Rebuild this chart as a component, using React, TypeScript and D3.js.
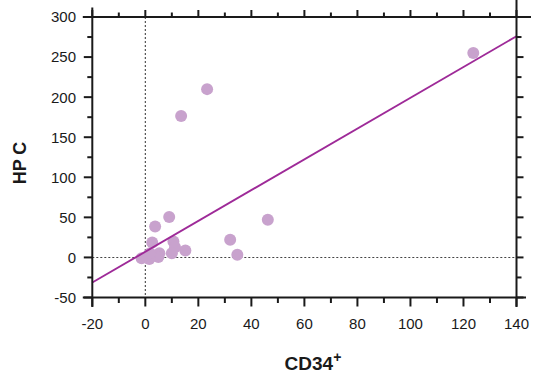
import React from "react";
import * as d3 from "d3";

const pointX = [123.7, 23.3, 13.5, 9, 3.7, 46.2, 32, 34.7, 15.1, 2.6, 10.6, 11.2, 10, 5.3, 4.9, 1.5, -1.4, 1.8];
const pointY = [255, 210, 176.5, 50.5, 38.5, 47, 22, 3.2, 8.6, 18.6, 19.8, 12.8, 5.3, 5.3, 0.4, -2, -0.9, 5.3];
const fitX = [-20, 140];
const fitY = [-31.3, 276];
const xMajor = [-20, 0, 20, 40, 60, 80, 100, 120, 140];
const xMinor = [-10, 10, 30, 50, 70, 90, 110, 130];
const yMajor = [-50, 0, 50, 100, 150, 200, 250, 300];
const yMinor = [-25, 25, 75, 125, 175, 225, 275];

const W = 537, H = 374;
const L = 92.3, R = 516.5, T = 17, B = 297.5;

export default function App() {
  const x = d3.scaleLinear().domain([-20, 140]).range([L, R]);
  const y = d3.scaleLinear().domain([-50, 300]).range([B, T]);
  const font = "Liberation Sans, Arial, sans-serif";
  const ext = 9.5;
  const line = d3.line<number>().x((d) => x(d)).y((_, i) => y(fitY[i]));
  const ax = "#1a1a1a";
  return (
    <svg width={W} height={H} style={{ position: "absolute", left: 0, top: 0 }}>
      <rect width={W} height={H} fill="#fff" />
      <line x1={x(0)} x2={x(0)} y1={T} y2={B} stroke="#444" strokeWidth={1.1} strokeDasharray="2,2" />
      <line x1={L} x2={R} y1={y(0)} y2={y(0)} stroke="#444" strokeWidth={1.1} strokeDasharray="2,2" />
      {pointX.map((px, i) => (
        <circle key={i} cx={x(px)} cy={y(pointY[i])} r={6} fill="#c8a2cd" />
      ))}
      <path d={line(fitX) || ""} stroke="#9e2a98" strokeWidth={1.9} fill="none" />
      <g stroke={ax} strokeWidth={2}>
        <line x1={L} x2={L} y1={T - ext} y2={B + ext} />
        <line x1={R} x2={R} y1={T - ext - 8} y2={B + ext} />
        <line x1={L - ext} x2={R + ext + 5} y1={T} y2={T} />
        <line x1={L - ext} x2={R + ext} y1={B} y2={B} />
        {xMajor.map((v) => (
          <line key={"xb" + v} x1={x(v)} x2={x(v)} y1={B} y2={B + 9} />
        ))}
        {xMinor.map((v) => (
          <line key={"xbm" + v} x1={x(v)} x2={x(v)} y1={B} y2={B + 5.5} />
        ))}
        {xMajor.map((v) => (
          <line key={"xt" + v} x1={x(v)} x2={x(v)} y1={T} y2={T - 7} />
        ))}
        {xMinor.map((v) => (
          <line key={"xtm" + v} x1={x(v)} x2={x(v)} y1={T} y2={T - 4.5} />
        ))}
        {yMajor.map((v) => (
          <line key={"yl" + v} x1={L} x2={L - 8.5} y1={y(v)} y2={y(v)} />
        ))}
        {yMinor.map((v) => (
          <line key={"ylm" + v} x1={L} x2={L - 5} y1={y(v)} y2={y(v)} />
        ))}
        {yMajor.map((v) => (
          <line key={"yr" + v} x1={R} x2={R + 7} y1={y(v)} y2={y(v)} />
        ))}
        {yMinor.map((v) => (
          <line key={"yrm" + v} x1={R} x2={R + 5} y1={y(v)} y2={y(v)} />
        ))}
      </g>
      <g fontFamily={font} fontSize={15} fill="#1a1a1a">
        {xMajor.map((v) => (
          <text key={"xl" + v} x={x(v)} y={328.5} textAnchor="middle">{v}</text>
        ))}
        {yMajor.map((v) => (
          <text key={"yl" + v} x={76} y={y(v)} dy="0.36em" textAnchor="end">{v}</text>
        ))}
      </g>
      <text x={0} y={0} transform="translate(25.5,163) rotate(-90)" textAnchor="middle" fontFamily={font} fontSize={18} fontWeight="bold" fill="#1a1a1a">HP C</text>
      <text x={313} y={370} textAnchor="middle" fontFamily={font} fontSize={19} fontWeight="bold" fill="#1a1a1a">
        CD34<tspan fontSize={14} dy={-8}>+</tspan>
      </text>
    </svg>
  );
}
